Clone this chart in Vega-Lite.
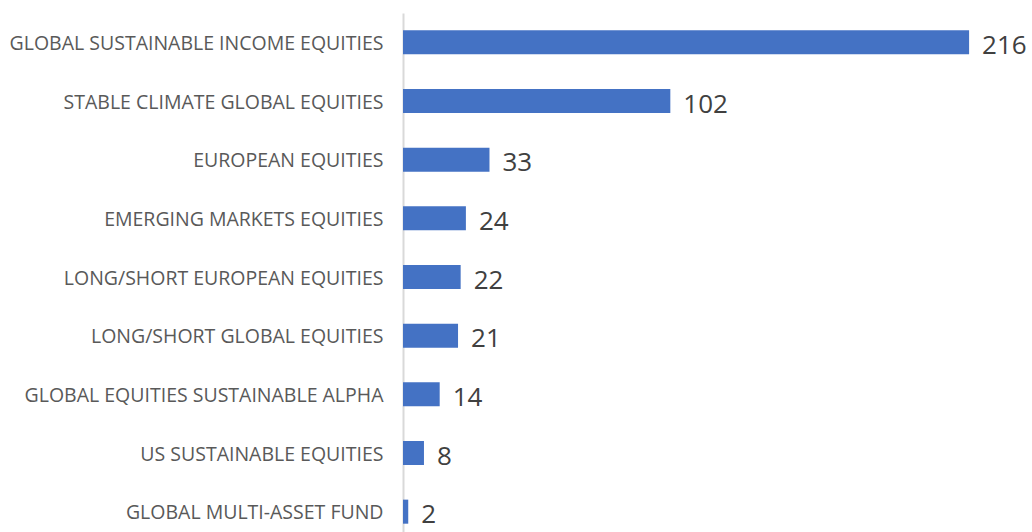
{
  "$schema": "https://vega.github.io/schema/vega-lite/v6.json",
  "width": 629,
  "height": 528,
  "autosize": {"type": "none"},
  "padding": {"left": 403, "top": 13, "right": 0, "bottom": 0},
  "background": "white",
  "config": {"view": {"stroke": null}},
  "data": {
    "values": [
      {"fund": "GLOBAL SUSTAINABLE INCOME EQUITIES", "value": 216},
      {"fund": "STABLE CLIMATE GLOBAL EQUITIES", "value": 102},
      {"fund": "EUROPEAN EQUITIES", "value": 33},
      {"fund": "EMERGING MARKETS EQUITIES", "value": 24},
      {"fund": "LONG/SHORT EUROPEAN EQUITIES", "value": 22},
      {"fund": "LONG/SHORT GLOBAL EQUITIES", "value": 21},
      {"fund": "GLOBAL EQUITIES SUSTAINABLE ALPHA", "value": 14},
      {"fund": "US SUSTAINABLE EQUITIES", "value": 8},
      {"fund": "GLOBAL MULTI-ASSET FUND", "value": 2}
    ]
  },
  "encoding": {
    "y": {
      "field": "fund",
      "type": "nominal",
      "sort": null,
      "title": null,
      "scale": {"paddingInner": 0.59, "paddingOuter": 0.295},
      "axis": {
        "ticks": false,
        "domainColor": "#d9d9d9",
        "domainWidth": 2,
        "labelPadding": 20,
        "labelOffset": 1.5,
        "labelFontSize": 19.5,
        "labelFont": "Open Sans",
        "labelColor": "#595959",
        "labelLimit": 0
      }
    },
    "x": {
      "field": "value",
      "type": "quantitative",
      "scale": {"domain": [0, 240], "nice": false},
      "axis": null
    }
  },
  "layer": [
    {"mark": {"type": "bar", "color": "#4472C4"}},
    {
      "mark": {"type": "text", "align": "left", "baseline": "middle", "dx": 13, "dy": 3.5, "fontSize": 26, "font": "Open Sans", "color": "#404040"},
      "encoding": {"text": {"field": "value", "type": "quantitative"}}
    }
  ]
}
